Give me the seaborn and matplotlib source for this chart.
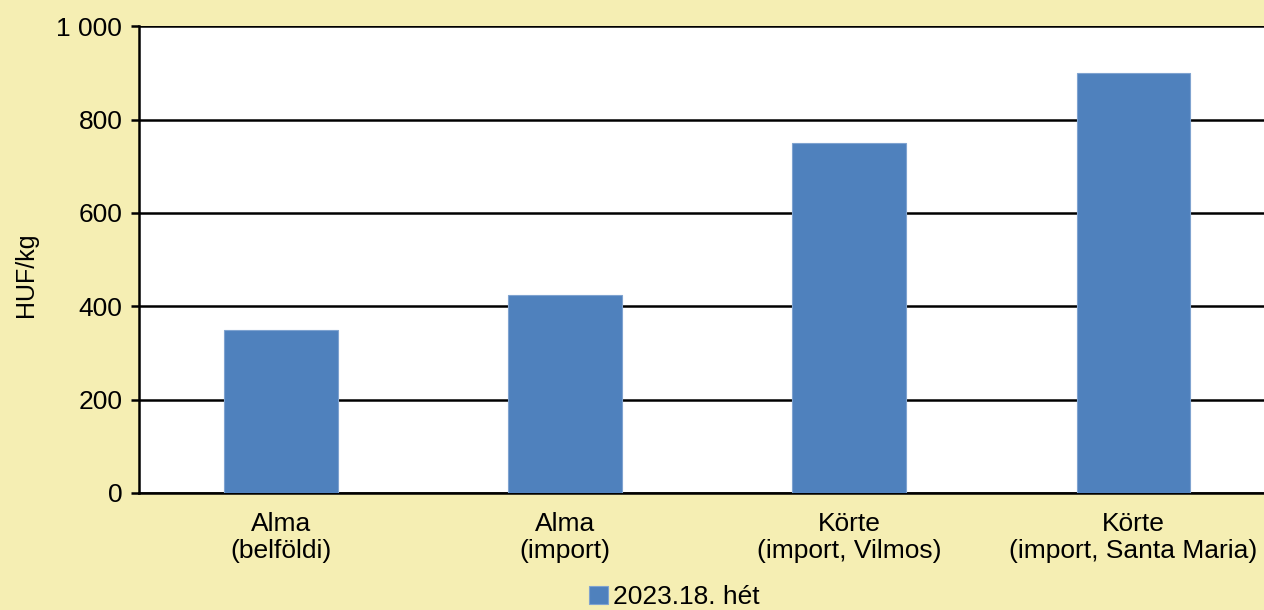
import matplotlib
matplotlib.use('Agg')
import matplotlib.pyplot as plt
import seaborn as sns

categories = ['Alma\n(belföldi)', 'Alma\n(import)', 'Körte\n(import, Vilmos)', 'Körte\n(import, Santa Maria)']
prices = [350, 425, 750, 900]
series_name = '2023.18. hét'
yticks = [0, 200, 400, 600, 800, 1000]
ytick_labels = ['0', '200', '400', '600', '800', '1 000']

sns.set_style('white')
plt.rcParams['font.family'] = ['Liberation Sans', 'DejaVu Sans']
plt.rcParams['text.color'] = 'black'
plt.rcParams['xtick.color'] = 'black'
plt.rcParams['ytick.color'] = 'black'
plt.rcParams['axes.labelcolor'] = 'black'

bg = '#F5EEB3'
fig = plt.figure(figsize=(12.64, 6.10), dpi=100, facecolor=bg)
ax = fig.add_axes([0.110, 0.192, 0.899, 0.765])
ax.set_facecolor('white')

sns.barplot(x=categories, y=prices, color='#4F81BD', width=0.4, saturation=1,
            label=series_name, ax=ax, zorder=3, edgecolor='#7FA3D0', linewidth=0.8)

ax.set_ylim(0, 1000)
ax.set_xlim(-0.5, 3.5)
ax.set_yticks(yticks)
ax.set_yticklabels(ytick_labels)
ax.yaxis.grid(True, color='black', linewidth=1.8, zorder=0)
ax.set_axisbelow(True)

for side in ['top', 'right']:
    ax.spines[side].set_visible(False)
for side in ['left', 'bottom']:
    ax.spines[side].set_color('black')
    ax.spines[side].set_linewidth(1.8)

ax.tick_params(axis='y', which='both', left=True, length=6, width=1.8, color='black',
               labelsize=19, pad=6)
ax.tick_params(axis='x', bottom=False, labelsize=19, pad=10)
ax.set_ylabel('HUF/kg', fontsize=18)
ax.yaxis.set_label_coords(-0.089, 0.467)
ax.set_xlabel('')

ax.legend(loc='lower center', bbox_to_anchor=(0.471, -0.278), bbox_transform=ax.transAxes,
          frameon=False, fontsize=19, handlelength=0.7, handleheight=0.7,
          handletextpad=0.2, borderpad=0)

fig.savefig('out.png', dpi=100, facecolor=bg)
